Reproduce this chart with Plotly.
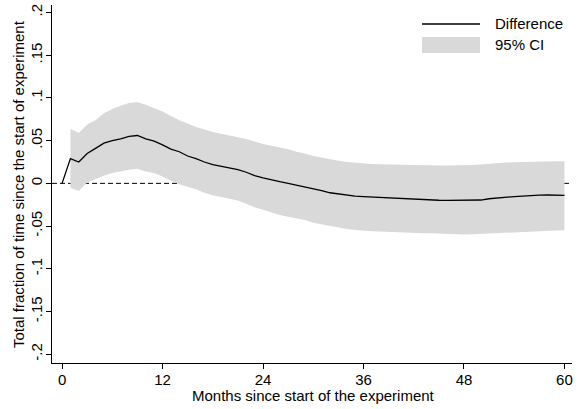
import plotly.graph_objects as go

months = list(range(0, 61))
difference = [0.0, 0.029, 0.025, 0.035, 0.041, 0.047, 0.050, 0.052, 0.055, 0.056,
              0.052, 0.0495, 0.045, 0.040, 0.037, 0.032, 0.029, 0.025, 0.022, 0.020,
              0.018, 0.016, 0.013, 0.009, 0.0065, 0.004, 0.002, 0.0, -0.002, -0.004,
              -0.006, -0.0085, -0.011, -0.0125, -0.014, -0.015, -0.0155, -0.016, -0.0167, -0.0175,
              -0.018, -0.0185, -0.019, -0.0193, -0.0195, -0.0198, -0.020, -0.020, -0.020, -0.020,
              -0.0195, -0.018, -0.017, -0.016, -0.0155, -0.015, -0.014, -0.0138, -0.0136, -0.0138,
              -0.014]

ci_months = list(range(1, 61))
ci_upper = [0.064, 0.059, 0.069, 0.074, 0.082, 0.087, 0.091, 0.094, 0.095,
            0.092, 0.088, 0.084, 0.079, 0.074, 0.070, 0.066, 0.063, 0.060, 0.058,
            0.056, 0.0545, 0.052, 0.049, 0.046, 0.044, 0.042, 0.040, 0.037, 0.035,
            0.032, 0.030, 0.028, 0.0265, 0.025, 0.024, 0.023, 0.0227, 0.0223, 0.022,
            0.022, 0.0217, 0.0213, 0.021, 0.021, 0.021, 0.021, 0.021, 0.021, 0.0215,
            0.022, 0.023, 0.024, 0.0243, 0.0246, 0.025, 0.025, 0.0255, 0.026, 0.026,
            0.026]
ci_lower = [-0.005, -0.009, 0.001, 0.005, 0.009, 0.012, 0.014, 0.016, 0.017,
            0.014, 0.012, 0.008, 0.003, -0.001, -0.004, -0.007, -0.011, -0.014, -0.016,
            -0.018, -0.020, -0.024, -0.028, -0.031, -0.034, -0.037, -0.039, -0.041, -0.043,
            -0.046, -0.048, -0.050, -0.052, -0.0535, -0.0545, -0.0555, -0.056, -0.0565, -0.057,
            -0.057, -0.0575, -0.058, -0.0583, -0.0585, -0.059, -0.0595, -0.060, -0.060, -0.0595,
            -0.059, -0.0585, -0.058, -0.0575, -0.057, -0.0565, -0.056, -0.0558, -0.0555, -0.0553,
            -0.055]

x_ticks = [0, 12, 24, 36, 48, 60]
y_ticks = [-0.2, -0.15, -0.1, -0.05, 0, 0.05, 0.1, 0.15, 0.2]
y_ticktext = ["-.2", "-.15", "-.1", "-.05", "0", ".05", ".1", ".15", ".2"]

BAND = "#d9d9d9"
FONT = "Liberation Sans, Arial, Helvetica, sans-serif"
FS = 15

fig = go.Figure()
fig.add_trace(go.Scatter(x=ci_months, y=ci_upper, mode="lines", line=dict(width=0),
                         hoverinfo="skip", showlegend=False))
fig.add_trace(go.Scatter(x=ci_months, y=ci_lower, mode="lines", line=dict(width=0),
                         fill="tonexty", fillcolor=BAND, name="95% CI", showlegend=False))
fig.add_trace(go.Scatter(x=months, y=difference, mode="lines",
                         line=dict(color="black", width=1.3), name="Difference",
                         showlegend=False))

# zero reference line (below data)
fig.add_shape(type="line", xref="paper", x0=0, x1=1, yref="y", y0=0, y1=0,
              line=dict(color="black", width=1, dash="5px,3px"), layer="below")

# manual legend
fig.add_shape(type="line", xref="paper", yref="paper",
              x0=(422 - 52) / 520, x1=(480 - 52) / 520,
              y0=1 - (24 - 5) / 358.3, y1=1 - (24 - 5) / 358.3,
              line=dict(color="black", width=1.3))
fig.add_shape(type="rect", xref="paper", yref="paper",
              x0=(422 - 52) / 520, x1=(480 - 52) / 520,
              y0=1 - (53 - 5) / 358.3, y1=1 - (37 - 5) / 358.3,
              fillcolor=BAND, line=dict(width=0))
fig.add_annotation(text="Difference", xref="paper", yref="paper",
                   x=(493 - 52) / 520, y=1 - (24 - 5) / 358.3, xanchor="left", yanchor="middle",
                   showarrow=False, font=dict(size=FS, color="black", family=FONT))
fig.add_annotation(text="95% CI", xref="paper", yref="paper",
                   x=(493 - 52) / 520, y=1 - (45 - 5) / 358.3, xanchor="left", yanchor="middle",
                   showarrow=False, font=dict(size=FS, color="black", family=FONT))

# axis titles
fig.add_annotation(text="Months since start of the experiment", xref="paper", yref="paper",
                   x=(313.5 - 52) / 520, y=0, yshift=-32.5,
                   xanchor="center", yanchor="middle", showarrow=False,
                   font=dict(size=FS, color="black", family=FONT))
fig.add_annotation(text="Total fraction of time since the start of experiment", xref="paper",
                   yref="paper", x=0, y=0.5, xshift=-34, xanchor="center", yanchor="middle",
                   textangle=-90, showarrow=False,
                   font=dict(size=FS, color="black", family=FONT))

fig.update_layout(
    width=580, height=409,
    margin=dict(l=52, r=8, t=5, b=46),
    paper_bgcolor="white", plot_bgcolor="white",
    font=dict(family=FONT, size=FS, color="black"),
    showlegend=False,
)
fig.update_xaxes(range=[-1.2, 60.9], tickvals=x_ticks, ticktext=[str(v) for v in x_ticks],
                 showline=True, linecolor="black", linewidth=1, ticks="outside",
                 ticklen=5, tickcolor="black", showgrid=False, zeroline=False,
                 tickfont=dict(size=FS), ticklabelstandoff=-2)
fig.update_yaxes(range=[-0.2103, 0.2088], tickvals=y_ticks, ticktext=y_ticktext,
                 tickangle=-90, showline=True, linecolor="black", linewidth=1,
                 ticks="outside", ticklen=5, tickcolor="black", showgrid=False,
                 zeroline=False, tickfont=dict(size=FS), ticklabelstandoff=-2)

fig.write_html("out.html")
